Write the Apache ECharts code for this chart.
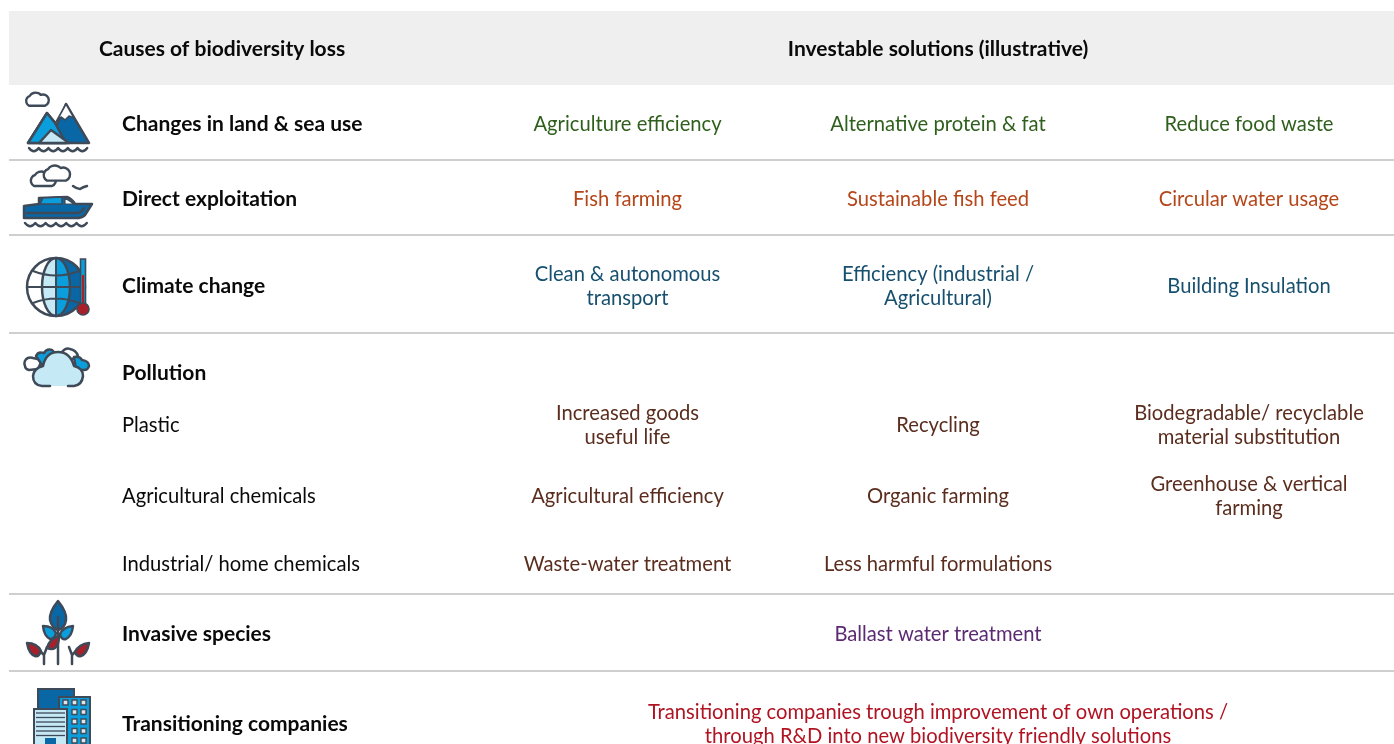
<!DOCTYPE html>
<html>
<head>
<meta charset="utf-8">
<script src="https://cdn.jsdelivr.net/npm/echarts@6/dist/echarts.min.js"></script>
<style>
  html, body { margin: 0; padding: 0; background: #fff; }
  #chart { width: 1394px; height: 744px; }
</style>
</head>
<body>
<div id="chart"></div>
<script>
// table text
const headers = ['Causes of biodiversity loss', 'Investable solutions (illustrative)'];
const causes = ['Changes in land & sea use', 'Direct exploitation', 'Climate change', 'Pollution',
  'Plastic', 'Agricultural chemicals', 'Industrial/ home chemicals', 'Invasive species', 'Transitioning companies'];
const solutions1 = ['Agriculture efficiency', 'Fish farming', 'Clean & autonomous\ntransport', '',
  'Increased goods\nuseful life', 'Agricultural efficiency', 'Waste-water treatment', '', ''];
const solutions2 = ['Alternative protein & fat', 'Sustainable fish feed', 'Efficiency (industrial /\nAgricultural)', '',
  'Recycling', 'Organic farming', 'Less harmful formulations', 'Ballast water treatment',
  'Transitioning companies trough improvement of own operations /\nthrough R&D into new biodiversity friendly solutions'];
const solutions3 = ['Reduce food waste', 'Circular water usage', 'Building Insulation', '',
  'Biodegradable/ recyclable\nmaterial substitution', 'Greenhouse & vertical\nfarming', '', '', ''];
const boldRows = [true, true, true, true, false, false, false, true, true];

// layout and colours
const rowY = [124, 199, 286, 373, 425, 496, 564, 634, 724];
const ruleY = [160, 235, 333, 594, 671];
const colX = [627.5, 938, 1249];
const rowColor = ['#2f5f1c', '#b5461a', '#17506f', '#5a2d1e', '#5a2d1e', '#5a2d1e', '#5a2d1e', '#5b2a72', '#b01322'];
const DARK = '#3f4a59', BLUE = '#0a67a6', CYAN = '#0a9fdc', PALE = '#c6e9f6', RED = '#a8202a';

const g = [];
g.push({ type: 'rect', shape: { x: 9, y: 11, width: 1385, height: 74 }, style: { fill: '#efefef' }, silent: true });
ruleY.forEach(y => g.push({ type: 'line', shape: { x1: 9, y1: y, x2: 1394, y2: y }, style: { stroke: '#bfbfbf', lineWidth: 1.5 }, silent: true }));

function text(x, y, s, color, bold, align) {
  g.push({ type: 'text', x: x, y: y, silent: true, style: {
    text: s, fill: color, align: align || 'center', verticalAlign: 'middle',
    font: (bold ? 'bold 21px' : '20.2px') + ' Lato', lineHeight: 24
  } });
}
text(222, 49, headers[0], '#0a0a0a', true);
text(938, 49, headers[1], '#0a0a0a', true);
causes.forEach((c, i) => {
  text(122, rowY[i], c, '#0a0a0a', boldRows[i], 'left');
  [solutions1, solutions2, solutions3].forEach((col, k) => {
    if (col[i]) text(colX[k], rowY[i], col[i], rowColor[i], false);
  });
});

// icons, drawn by a custom series so svg path data can be used
const icons = [];
function icon(d, fill, stroke, w) {
  icons.push({ type: 'path', shape: { pathData: d },
    style: { fill: fill || 'none', stroke: stroke === undefined ? DARK : stroke, lineWidth: w || 2.5, lineJoin: 'round', lineCap: 'round' } });
}
function box(x, y, w, h, fill, lw) {
  icons.push({ type: 'rect', shape: { x: x, y: y, width: w, height: h }, style: { fill: fill, stroke: lw ? DARK : 'none', lineWidth: lw || 0 } });
}
function waves(x, y, n, w) {
  let d = 'M' + x + ' ' + y;
  for (let i = 0; i < n; i++) d += 'q' + w / 2 + ' 6.5 ' + w + ' 0';
  icon(d, 'none', DARK, 2.4);
}
function cloud(x, y, s, fill) {
  icon('M' + x + ' ' + (y + 13 * s) + 'a' + 6 * s + ' ' + 6 * s + ' 0 0 1 ' + 1 * s + ' ' + (-11 * s) +
    'a' + 7 * s + ' ' + 6 * s + ' 0 0 1 ' + 12 * s + ' ' + (-1 * s) +
    'a' + 5 * s + ' ' + 5 * s + ' 0 0 1 ' + 5 * s + ' ' + 12 * s + 'z', fill || '#fff', DARK, 2.4);
}

// mountains
cloud(29, 94, 0.9);
icon('M28 143L47 113L57 125L66 104L89 143Z', BLUE);
icon('M28 143L47 113L55 123L66 143Z', CYAN);
icon('M39 143L51 130L69 143Z', PALE);
icon('M56 122L66 104L74 118L69 116L65 120L61 117Z', '#fff', DARK, 1.6);
waves(29, 148, 6, 9.7);

// boat
cloud(34, 173, 1);
cloud(47, 167, 1.05);
icon('M73 186q4 3 7 3q3 -2 7 -3', 'none');
icon('M39 198L67 197Q72 199 75 204L92 204L85 215Q82 218 76 218L24 218L24 206L39 204Z', BLUE);
icon('M43 198L62 197L62 204L40 204Z', CYAN, DARK, 1.6);
icon('M65 198L74 204L65 204Z', '#fff', DARK, 1.2);
icon('M27 213L78 213Q82 212 84 208', 'none');
waves(25, 223, 6, 10.3);

// globe and thermometer
icon('M56 258a29 29 0 0 0 0 58Z', '#fff', 'none');
icon('M56 258a14 29 0 0 0 0 58Z', PALE, 'none');
icon('M56 258a29 29 0 0 1 0 58Z', BLUE, 'none');
icon('M56 258a14 29 0 0 1 0 58Z', CYAN, 'none');
icon('M27 287a29 29 0 1 0 58 0a29 29 0 1 0 -58 0', 'none');
icon('M42 287a14 29 0 1 0 28 0a14 29 0 1 0 -28 0', 'none');
icon('M56 258V316M27 287H85M33 271Q56 280 79 271M33 303Q56 294 79 303', 'none', DARK, 2);
box(80.5, 259, 5, 46, CYAN, 1.6);
box(82, 275, 2, 30, RED);
icons.push({ type: 'circle', shape: { cx: 83, cy: 309, r: 6 }, style: { fill: RED, stroke: DARK, lineWidth: 1.6 } });

// pollution clouds
icon('M25 366a6 6 0 0 1 8 -8l9 2l-4 9l-9 1q-4 -1 -4 -4Z', '#fff');
icon('M36 356q2 -5 8 -3q3 -5 8 -3q3 2 2 6l-12 9Z', CYAN);
icon('M62 352q4 -5 8 -3q6 1 8 7l-10 5Z', '#fff');
icon('M74 357q6 -1 8 3q7 1 7 6q-1 4 -5 4l-8 0Z', CYAN);
icon('M50 386L42 386Q33 385 33 376Q34 368 43 366Q46 352 58 352Q70 352 74 366Q83 368 83 376Q82 385 74 386L68 386', PALE);

// plant
icon('M58 601Q49 612 50 620Q52 628 58 630Q65 628 66 620Q67 612 58 601Z', BLUE);
icon('M43 626Q53 626 56 633Q55 639 50 639Q44 636 43 626Z', CYAN);
icon('M73 626Q63 627 60 634Q61 640 66 639Q72 636 73 626Z', CYAN);
icon('M58 617V664M44 664V655L38 649M44 655L47 647M72 664V655L78 649M72 655L69 647', 'none');
icon('M59 636Q50 638 47 648Q52 650 55 648Q59 645 59 636Z', RED);
icon('M27 643Q37 643 41 651Q39 657 35 656Q29 654 27 643Z', RED);
icon('M89 643Q79 644 75 652Q77 657 81 656Q87 654 89 643Z', RED);

// building
box(38, 689, 36, 30, BLUE, 2);
box(59, 697, 31, 50, CYAN, 2);
box(34, 709, 33, 38, PALE, 2);
for (let r = 0; r < 5; r++) {
  for (let c = 0; c < 3; c++) {
    if (r > 0 && c === 0) continue;
    box(63 + c * 9, 700 + r * 9.5, 5, 5, '#dfe6ea', 1.4);
  }
}
for (let r = 0; r < 6; r++) {
  icons.push({ type: 'line', shape: { x1: 36, y1: 713 + r * 4.5, x2: 65, y2: 713 + r * 4.5 }, style: { stroke: DARK, lineWidth: 1.3 } });
}
box(45, 738, 11, 8, BLUE);

const chart = echarts.init(document.getElementById('chart'), null, { renderer: 'canvas' });
chart.setOption({
  animation: false,
  backgroundColor: '#fff',
  graphic: { elements: g },
  series: [{
    type: 'custom',
    coordinateSystem: 'none',
    silent: true,
    data: [0],
    renderItem: () => ({ type: 'group', children: icons })
  }]
});
</script>
</body>
</html>
